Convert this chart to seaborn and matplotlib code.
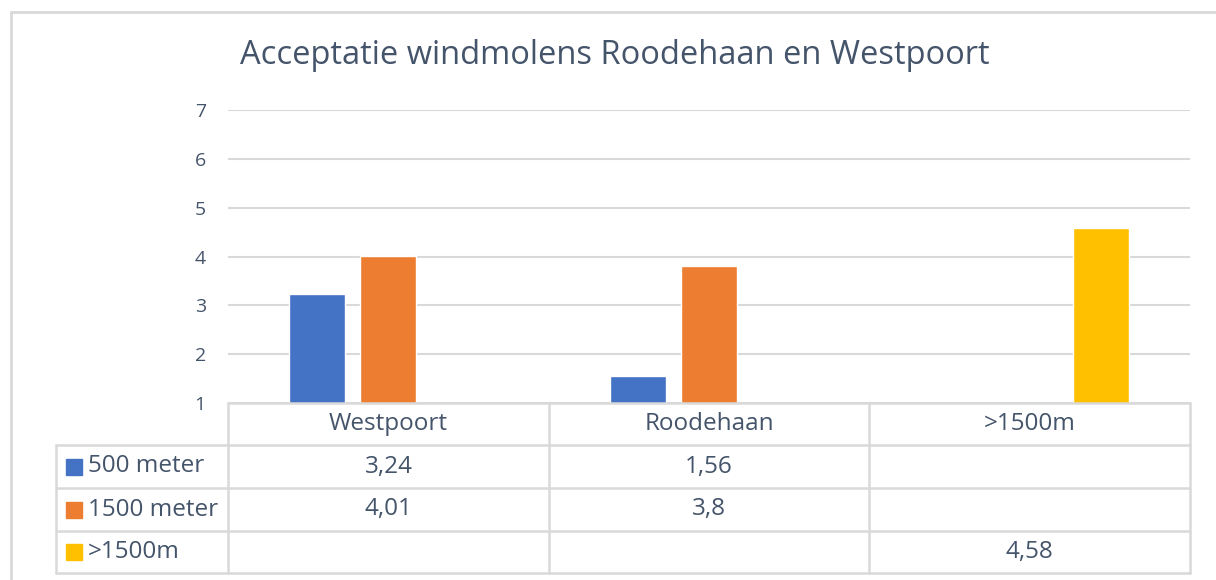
import matplotlib
matplotlib.use("Agg")
import matplotlib.pyplot as plt
from matplotlib.patches import Rectangle
from matplotlib.lines import Line2D
import seaborn as sns
import numpy as np
import pandas as pd

# Data
categories = ["Westpoort", "Roodehaan", ">1500m"]
series = ["500 meter", "1500 meter", ">1500m"]
val_500 = [3.24, 1.56, np.nan]
val_1500 = [4.01, 3.8, np.nan]
val_gt1500 = [np.nan, np.nan, 4.58]
colors = ["#4472C4", "#ED7D31", "#FFC000"]

text_color = "#44546A"
line_color = "#D9D9D9"

df = pd.DataFrame({
    "categorie": categories * 3,
    "reeks": [s for s in series for _ in categories],
    "waarde": val_500 + val_1500 + val_gt1500,
})

sns.set_theme(style="white")
plt.rcParams["font.family"] = ["Open Sans", "DejaVu Sans"]

fig = plt.figure(figsize=(12.16, 5.8), dpi=100)
W, H = 1216, 580
ax = fig.add_axes([228 / W, 1 - 403 / H, (1190 - 228) / W, (403 - 110) / H])

sns.barplot(data=df, x="categorie", y="waarde", hue="reeks", order=categories,
            hue_order=series, palette=colors, width=0.664, gap=0.21,
            saturation=1, legend=False, ax=ax, zorder=3)

# Axes styling
ax.set_ylim(1, 7)
ax.set_yticks(range(1, 8))
ax.set_xlim(-0.5, 2.5)
ax.set_xlabel("")
ax.set_ylabel("")
ax.set_xticks([])
for s in ax.spines.values():
    s.set_visible(False)
ax.yaxis.grid(True, color=line_color, linewidth=1.5, zorder=0)
ax.tick_params(axis="y", length=0, pad=16, labelsize=14, labelcolor=text_color)

fig.suptitle("Acceptatie windmolens Roodehaan en Westpoort", x=(240 + 990) / 2 / W,
             y=1 - 55 / H, va="center", fontsize=23.5, color=text_color)

# Data table below the plot (pixel coordinates in figure)
def fx(px):
    return px / W

def fy(py):
    return 1 - py / H

col_edges = [228, 549, 869, 1190]
row_edges = [403, 445, 488, 531, 573]
table_left = 56
lw = 1.8
fs = 17.5

# horizontal lines
fig.add_artist(Line2D([fx(228), fx(1190)], [fy(403), fy(403)], color=line_color, lw=lw))
for ry in row_edges[1:]:
    fig.add_artist(Line2D([fx(table_left), fx(1190)], [fy(ry), fy(ry)], color=line_color, lw=lw))
# vertical lines
fig.add_artist(Line2D([fx(table_left), fx(table_left)], [fy(445), fy(573)], color=line_color, lw=lw))
for cx in col_edges:
    fig.add_artist(Line2D([fx(cx), fx(cx)], [fy(403), fy(573)], color=line_color, lw=lw))

# header
for i, cat in enumerate(categories):
    cx = (col_edges[i] + col_edges[i + 1]) / 2
    fig.text(fx(cx), fy((row_edges[0] + row_edges[1]) / 2), cat, ha="center", va="center",
             fontsize=fs, color=text_color)

# rows
rows = [val_500, val_1500, val_gt1500]
for r, (name, vals) in enumerate(zip(series, rows)):
    cy = (row_edges[r + 1] + row_edges[r + 2]) / 2
    fig.add_artist(Rectangle((fx(66), fy(cy + 8)), 16 / W, 16 / H, color=colors[r],
                             transform=fig.transFigure))
    fig.text(fx(88), fy(cy), name, ha="left", va="center", fontsize=fs, color=text_color)
    for i, v in enumerate(vals):
        if np.isnan(v):
            continue
        cx = (col_edges[i] + col_edges[i + 1]) / 2
        label = ("%g" % v).replace(".", ",")
        fig.text(fx(cx), fy(cy), label, ha="center", va="center", fontsize=fs, color=text_color)

# chart border
fig.add_artist(Line2D([fx(11), fx(11)], [fy(12), 0], color=line_color, lw=2))
fig.add_artist(Line2D([fx(11), 1], [fy(12), fy(12)], color=line_color, lw=2))

fig.savefig("out.png", dpi=100)
